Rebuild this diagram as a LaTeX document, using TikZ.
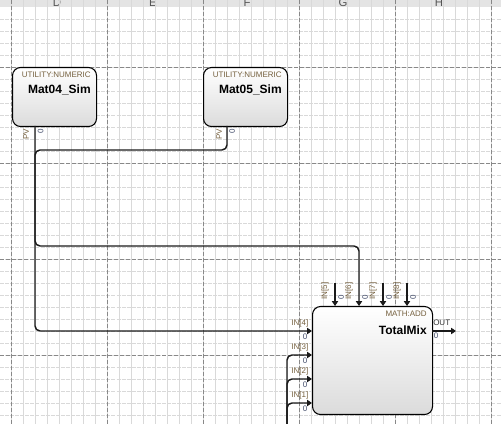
\documentclass[tikz,border=0pt]{standalone}
\usepackage{fontspec}
\setmainfont{Liberation Sans}
\usetikzlibrary{arrows.meta}
\definecolor{hdr}{HTML}{E4E4E4}
\definecolor{hdrtxt}{HTML}{555555}
\definecolor{minorc}{HTML}{D9D9D9}
\definecolor{majorc}{HTML}{888888}
\definecolor{labc}{HTML}{75603E}
\definecolor{zeroc}{HTML}{404A68}
\definecolor{wirec}{HTML}{1A1A1A}
\begin{document}
\begin{tikzpicture}[x=0.75pt,y=-0.75pt,
  minorv/.style={draw=minorc, line width=0.6pt},
  minorh/.style={draw=minorc, line width=0.6pt, dash pattern=on 3pt off 0.8pt},
  majorl/.style={draw=majorc, line width=0.6pt, dash pattern=on 3pt off 1.5pt},
  hdrtext/.style={text=hdrtxt, font=\fontsize{8.5}{9}\selectfont, inner sep=0pt},
  blk/.style={draw=black, line width=0.8pt, rounded corners=6pt, top color=white, bottom color=gray!28, anchor=north west, inner sep=0pt},
  small/.style={font=\fontsize{6}{7}\selectfont, inner sep=0pt},
  lab/.style={small, text=labc},
  zer/.style={small, text=zeroc},
  ttl/.style={font=\bfseries\fontsize{9}{10}\selectfont, inner sep=0pt, text=black},
  wire/.style={draw=wirec, line width=1.1pt, rounded corners=3.75pt},
  port/.style={draw=wirec, line width=1.1pt, -{Triangle[length=3.6pt,width=4.6pt]}}
]
\useasboundingbox (0,0) rectangle (501,424);
\begin{scope}
\clip (0,0) rectangle (501,424);
% header
\fill[hdr] (0,0) rectangle (501,7);
\begin{scope}
\clip (0,0) rectangle (501,6.7);
\foreach \l/\x in {D/57,E/153,F/247,G/343,H/439}
  \node[hdrtext, anchor=base] (h\l) at (\x,6.2) {\l};
\end{scope}
% grid
\foreach \x in {11,23,...,503} \draw[minorv] (\x,0) -- (\x,424);
\foreach \y in {19,31,...,415} \draw[minorh] (0,\y) -- (501,\y);
\foreach \x in {11,107,...,491} \draw[majorl] (\x,0) -- (\x,424);
\foreach \y in {67,163,259,355} \draw[majorl] (0,\y) -- (501,\y);

% blocks
\node[blk, minimum width=63pt, minimum height=44.25pt] (m4) at (12,67) {};
\node[blk, minimum width=63pt, minimum height=44.25pt] (m5) at (203,67) {};
\node[blk, minimum width=90pt, minimum height=81pt] (tm) at (312,306) {};

\node[lab, anchor=east] (m4t) at (91,75) {UTILITY:NUMERIC};
\node[ttl, anchor=east] (m4n) at (91,89.5) {Mat04\_Sim};
\node[lab, anchor=east] (m5t) at (282,75) {UTILITY:NUMERIC};
\node[ttl, anchor=east] (m5n) at (282,89.5) {Mat05\_Sim};
\node[lab, anchor=east] (tmt) at (427,314) {MATH:ADD};
\node[ttl, anchor=east] (tmn) at (427,330) {TotalMix};

% output port labels of Mat blocks
\node[lab, rotate=90] (m4pv) at (26,134.5) {PV};
\node[zer, rotate=90] (m4z) at (40.5,131) {0};
\node[lab, rotate=90] (m5pv) at (219,134.5) {PV};
\node[zer, rotate=90] (m5z) at (232,131) {0};

% port coordinates
\coordinate (m4o) at (35,126);
\coordinate (m5o) at (227,126);
\foreach \i/\x in {5/335,6/359,7/383,8/407} {
  \coordinate (tin\i) at (\x,306);
  \node[lab, rotate=90] (lin\i) at (\x-10,291) {IN[\i]};
  \node[zer, rotate=90] (zin\i) at (\x+6,297) {0};
}
\foreach \j/\y in {4/331,3/355,2/379,1/403} {
  \coordinate (tin\j) at (312,\y);
  \node[lab, anchor=east] (lin\j) at (308.5,\y-8) {IN[\j]};
  \node[zer] (zin\j) at (305,\y+5.5) {0};
}
\coordinate (tout) at (432,331);
\coordinate (outend) at (456,331);
\node[lab, anchor=west, text=black!80] (lout) at (433,323) {OUT};
\node[zer, anchor=west] (zout) at (433.5,335.5) {0};

% free ends
\coordinate (s5) at (335,283);
\coordinate (s7) at (383,283);
\coordinate (s8) at (407,283);
\coordinate (b3) at (287,440);
\coordinate (b2) at (287,440);
\coordinate (b1) at (287,440);

% connectors
\draw[wire, -{Triangle[length=3.6pt,width=4.6pt]}] (m4o) -- (35,331) -- (tin4);
\draw[wire, -{Triangle[length=3.6pt,width=4.6pt]}] (m5o) -- (227,150) -- (35,150) -- (35,246) -- (359,246) -- (tin6);
\draw[port] (s5) -- (tin5);
\draw[port] (s7) -- (tin7);
\draw[port] (s8) -- (tin8);
\draw[wire, -{Triangle[length=3.6pt,width=4.6pt]}] (b3) -- (287,355) -- (tin3);
\draw[wire, -{Triangle[length=3.6pt,width=4.6pt]}] (b2) -- (287,379) -- (tin2);
\draw[wire, -{Triangle[length=3.6pt,width=4.6pt]}] (b1) -- (287,403) -- (tin1);
\draw[port] (tout) -- (outend);
\end{scope}
\end{tikzpicture}
\end{document}
